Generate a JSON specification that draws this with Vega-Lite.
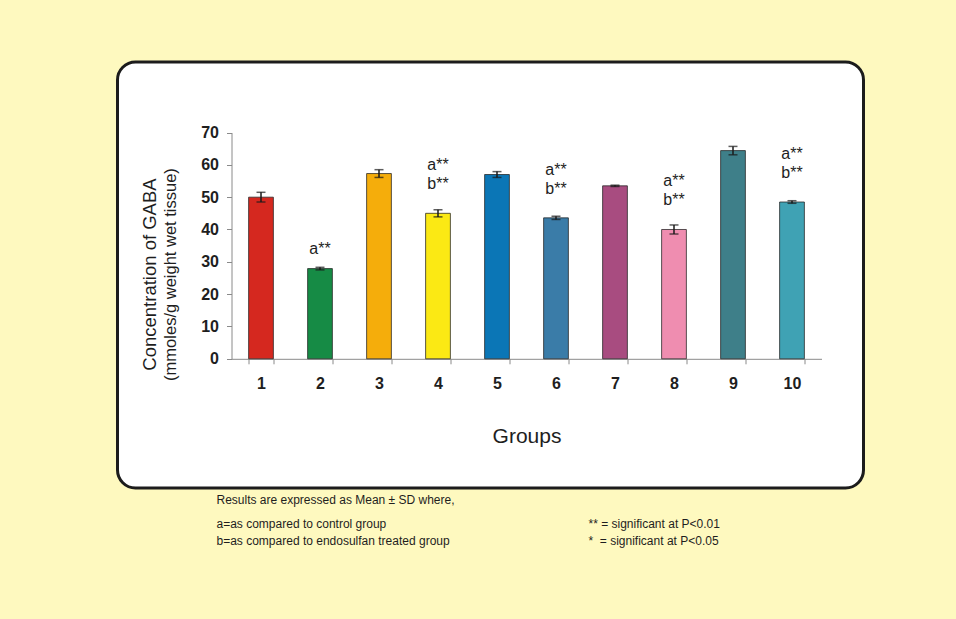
{
  "$schema": "https://vega.github.io/schema/vega-lite/v6.json",
  "background": "#FEF9BF",
  "padding": {"left": 115.5, "top": 60, "right": 120, "bottom": 90},
  "spacing": 4,
  "config": {
    "font": "Liberation Sans",
    "view": {"stroke": null},
    "axis": {
      "grid": false,
      "domainColor": "#8a8a8a",
      "tickColor": "#8a8a8a",
      "labelColor": "#1e1e1e",
      "titleColor": "#1e1e1e",
      "labelFont": "Liberation Sans",
      "titleFont": "Liberation Sans",
      "labelFontSize": 16,
      "labelFontWeight": "bold",
      "titleFontWeight": "normal",
      "tickSize": 5
    }
  },
  "vconcat": [
    {
      "width": 746,
      "height": 426,
      "view": {"fill": "#ffffff", "stroke": "#1c1c1c", "strokeWidth": 3, "cornerRadius": 18},
      "data": {
        "values": [
          {"group": 1, "mean": 50.0, "sd": 1.5, "sig": ""},
          {"group": 2, "mean": 27.9, "sd": 0.4, "sig": "a**"},
          {"group": 3, "mean": 57.3, "sd": 1.2, "sig": ""},
          {"group": 4, "mean": 45.0, "sd": 1.1, "sig": "a**\nb**"},
          {"group": 5, "mean": 57.0, "sd": 0.9, "sig": ""},
          {"group": 6, "mean": 43.6, "sd": 0.5, "sig": "a**\nb**"},
          {"group": 7, "mean": 53.5, "sd": 0.2, "sig": ""},
          {"group": 8, "mean": 40.0, "sd": 1.4, "sig": "a**\nb**"},
          {"group": 9, "mean": 64.4, "sd": 1.3, "sig": ""},
          {"group": 10, "mean": 48.5, "sd": 0.4, "sig": "a**\nb**"}
        ]
      },
      "encoding": {
        "x": {
          "field": "group",
          "type": "ordinal",
          "scale": {"range": [114, 704], "paddingInner": 0.58, "paddingOuter": 0.29},
          "axis": {
            "orient": "bottom",
            "offset": -129.2,
            "title": "Groups",
            "titleFontSize": 21,
            "titlePadding": 34,
            "labelAngle": 0,
            "labelPadding": 12,
            "tickBand": "extent"
          }
        }
      },
      "layer": [
        {
          "mark": {"type": "bar", "stroke": "#222222", "strokeWidth": 1, "strokeOpacity": 0.75},
          "encoding": {
            "y": {
              "field": "mean",
              "type": "quantitative",
              "scale": {"domain": [0, 70], "range": [296.8, 70.5], "nice": false},
              "axis": {
                "orient": "left",
                "offset": -114,
                "title": "(mmoles/g weight wet tissue)",
                "titleFontSize": 16.5,
                "titlePadding": 22,
                "titleY": 212,
                "values": [0, 10, 20, 30, 40, 50, 60, 70],
                "labelPadding": 8
              }
            },
            "color": {
              "field": "group",
              "type": "ordinal",
              "scale": {
                "domain": [1, 2, 3, 4, 5, 6, 7, 8, 9, 10],
                "range": ["#D5281F", "#168B45", "#F5AD0B", "#FBE914", "#0B76B6", "#3A7CA8", "#A84C80", "#EF8DB0", "#3E7F89", "#3FA2B4"]
              },
              "legend": null
            }
          }
        },
        {
          "mark": {"type": "errorbar", "ticks": {"size": 9}, "color": "#1a1a1a", "thickness": 1.5},
          "encoding": {
            "y": {"field": "mean", "type": "quantitative", "scale": {"domain": [0, 70], "range": [296.8, 70.5], "nice": false}, "axis": null},
            "yError": {"field": "sd"}
          }
        },
        {
          "transform": [{"filter": "datum.sig == 'a**'"}],
          "mark": {"type": "text", "align": "center", "baseline": "bottom", "dy": -12, "fontSize": 16, "color": "#1e1e1e"},
          "encoding": {
            "y": {"field": "mean", "type": "quantitative", "scale": {"domain": [0, 70], "range": [296.8, 70.5], "nice": false}, "axis": null},
            "text": {"field": "sig"}
          }
        },
        {
          "transform": [{"filter": "length(datum.sig) > 3"}],
          "mark": {"type": "text", "align": "center", "baseline": "bottom", "dy": -40, "lineBreak": "\n", "lineHeight": 19, "fontSize": 16, "color": "#1e1e1e"},
          "encoding": {
            "y": {
              "field": "mean",
              "type": "quantitative",
              "scale": {"domain": [0, 70], "range": [296.8, 70.5], "nice": false},
              "axis": {
                "orient": "left",
                "offset": -114,
                "title": "Concentration of GABA",
                "titleFontSize": 18.5,
                "titlePadding": 72,
                "titleY": 212,
                "labels": false,
                "ticks": false,
                "domain": false,
                "minExtent": 0
              }
            },
            "text": {"field": "sig"}
          }
        }
      ],
      "resolve": {"axis": {"y": "independent"}}
    },
    {
      "width": 746,
      "height": 34,
      "view": {"stroke": null, "fill": null},
      "title": {"text": "Results are expressed as Mean ± SD where,", "anchor": "start", "dx": 99, "fontSize": 12, "fontWeight": "normal", "font": "Liberation Sans", "color": "#1e1e1e", "offset": 8},
      "data": {
        "values": [
          {"col": "L", "row": "a", "note": "a=as compared to control group"},
          {"col": "L", "row": "b", "note": "b=as compared to endosulfan treated group"},
          {"col": "R", "row": "a", "note": "** = significant at P<0.01"},
          {"col": "R", "row": "b", "note": "*\u00a0\u00a0= significant at P<0.05"}
        ]
      },
      "mark": {"type": "text", "align": "left", "baseline": "middle", "fontSize": 12, "color": "#1e1e1e"},
      "encoding": {
        "x": {"field": "col", "type": "nominal", "scale": {"type": "point", "range": [99, 471], "padding": 0}, "axis": null},
        "y": {"field": "row", "type": "nominal", "scale": {"type": "point", "padding": 0.5}, "axis": null},
        "text": {"field": "note"}
      }
    }
  ]
}
